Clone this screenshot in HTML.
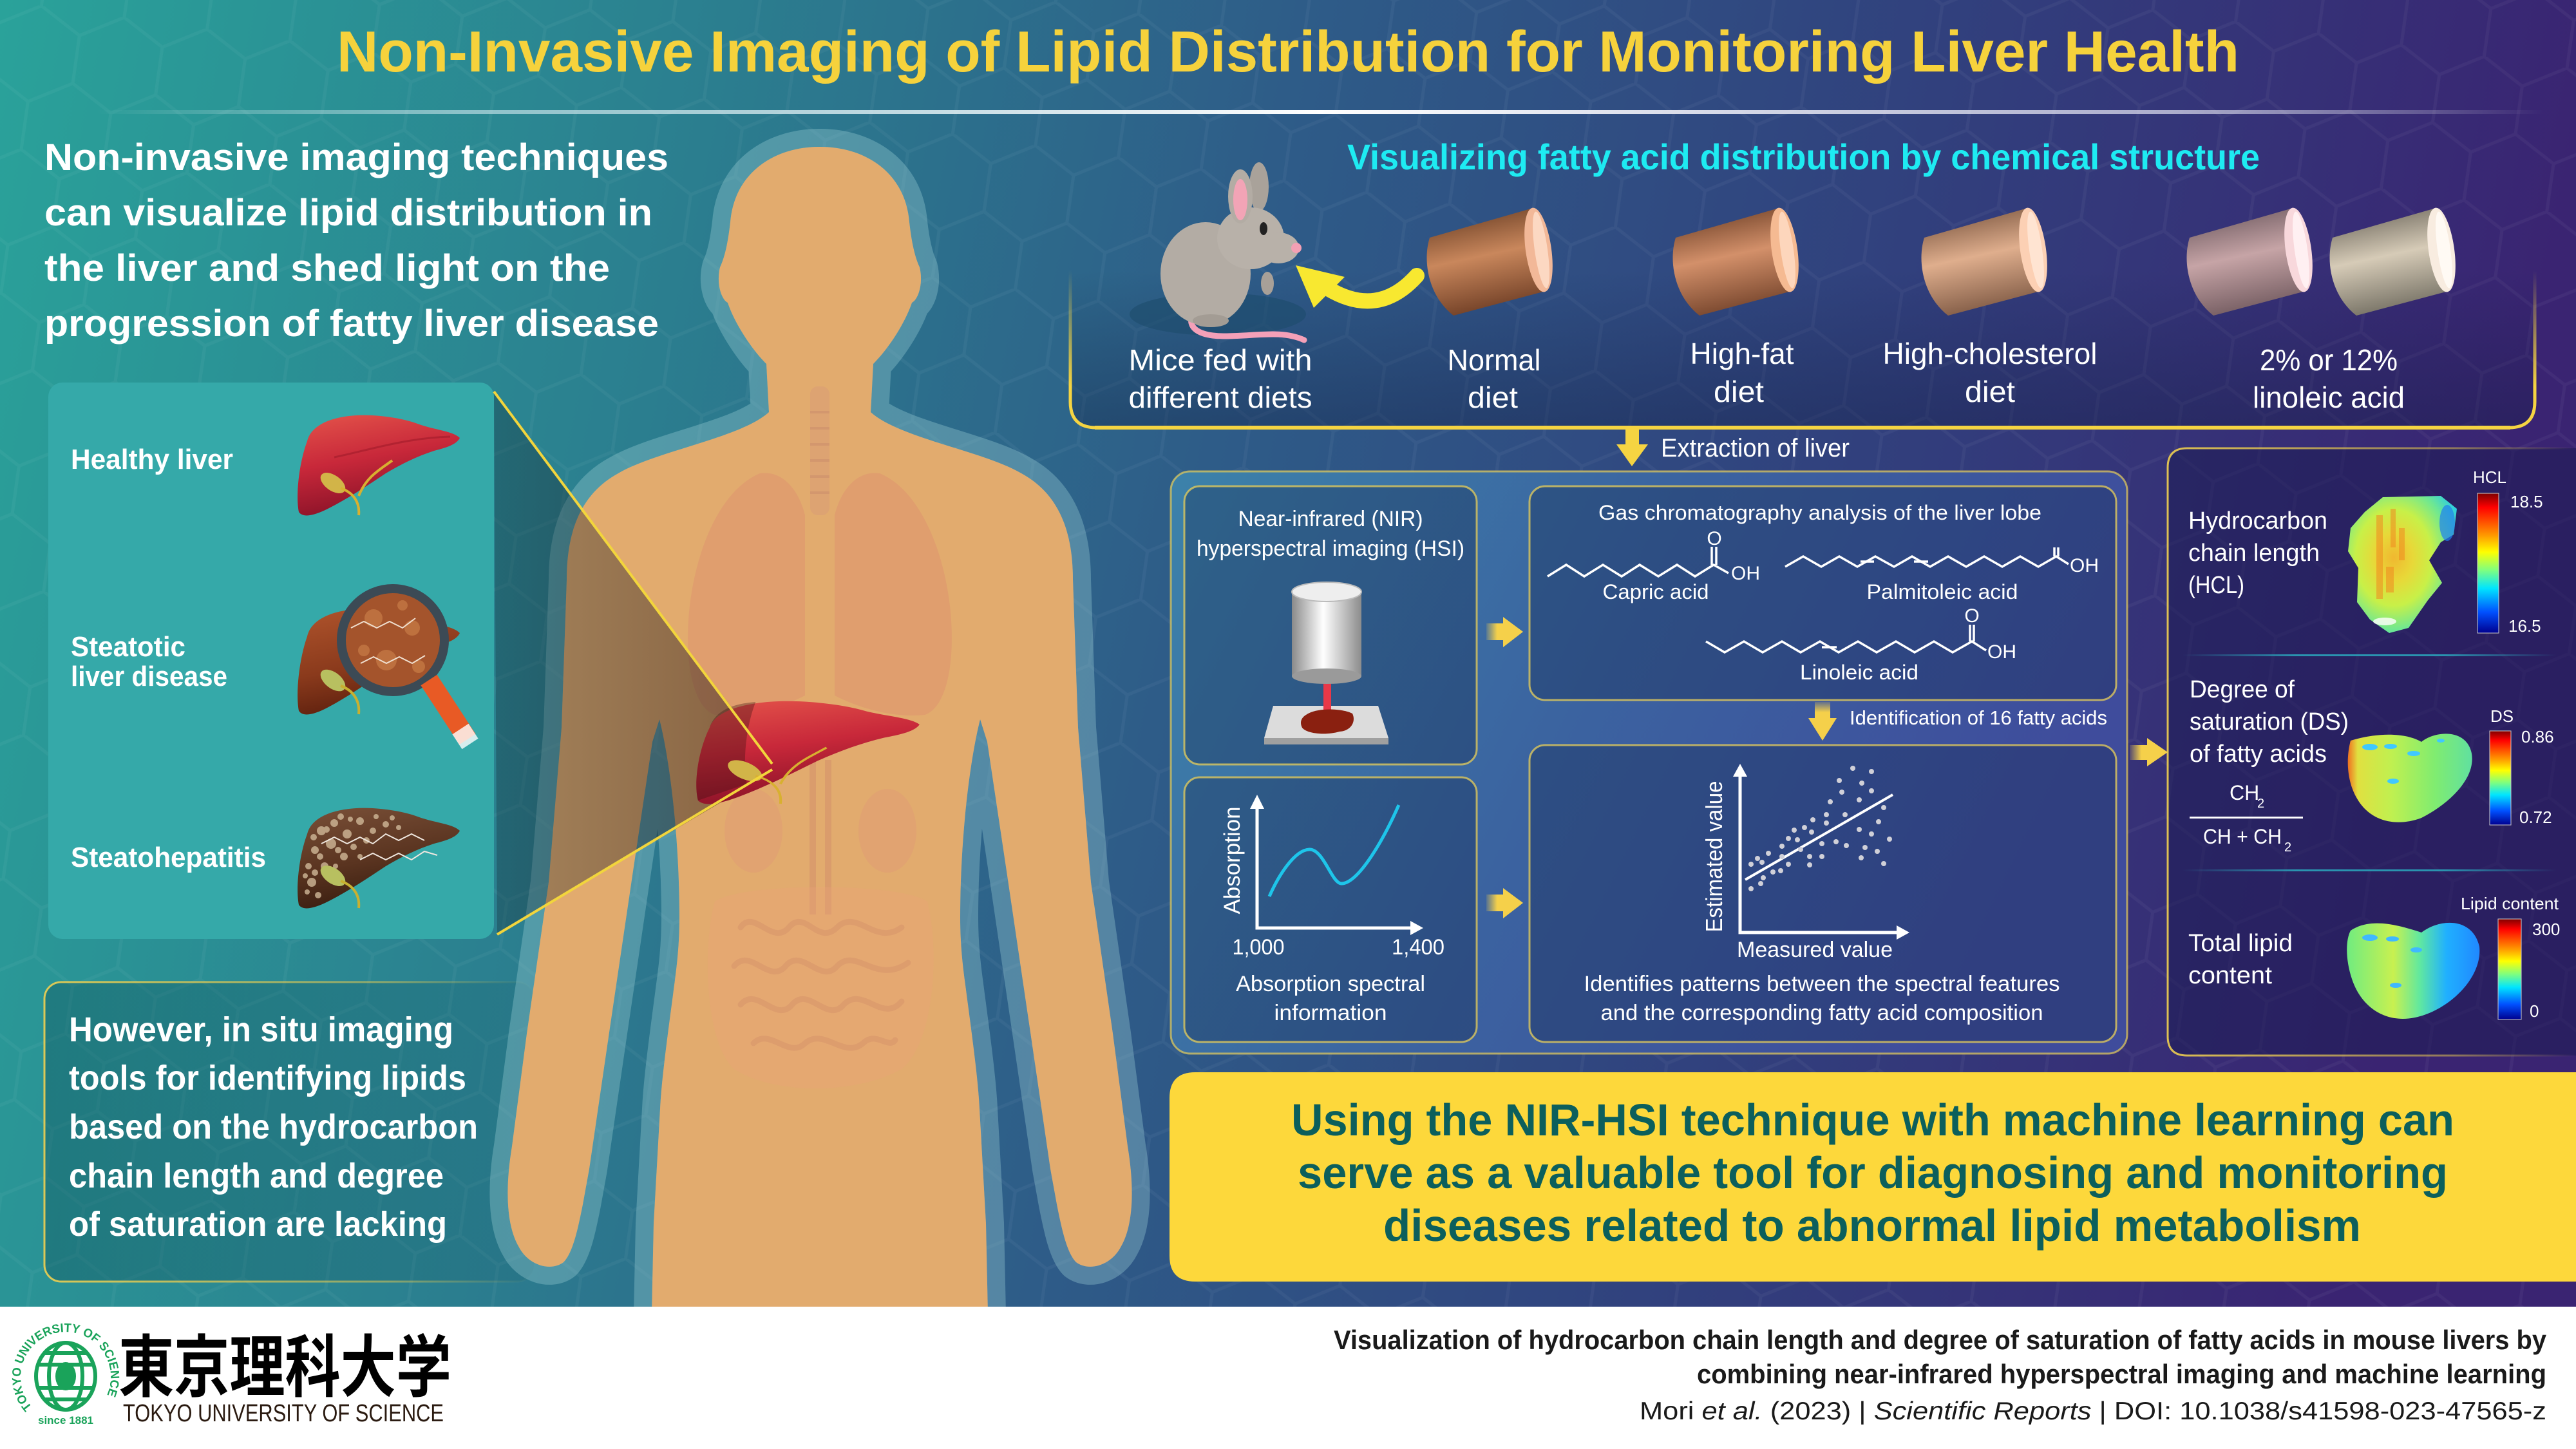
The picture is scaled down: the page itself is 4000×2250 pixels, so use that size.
<!DOCTYPE html>
<html><head><meta charset="utf-8">
<style>html,body{margin:0;padding:0;width:4000px;height:2250px;overflow:hidden;background:#fff}svg{display:block}</style>
</head><body>
<svg width="4000" height="2250" viewBox="0 0 4000 2250" xmlns="http://www.w3.org/2000/svg" xmlns:xlink="http://www.w3.org/1999/xlink" font-family="'Liberation Sans', Arial, sans-serif">
<defs>
  <linearGradient id="bg" x1="0" y1="0" x2="1" y2="0.12">
    <stop offset="0" stop-color="#2aa29a"/>
    <stop offset="0.28" stop-color="#2b7e8f"/>
    <stop offset="0.5" stop-color="#2e5c88"/>
    <stop offset="0.75" stop-color="#31407d"/>
    <stop offset="1" stop-color="#3a2472"/>
  </linearGradient>
  <pattern id="hex" width="129.9" height="225" patternUnits="userSpaceOnUse" patternTransform="rotate(8)">
    <path d="M64.95,0 L129.9,37.5 L129.9,112.5 L64.95,150 L0,112.5 L0,37.5 Z M64.95,150 L64.95,225" fill="none" stroke="#ffffff" stroke-opacity="0.04" stroke-width="5"/>
  </pattern>
  <linearGradient id="tline" x1="0" y1="0" x2="1" y2="0">
    <stop offset="0" stop-color="#fff" stop-opacity="0"/>
    <stop offset="0.15" stop-color="#cfe8ee" stop-opacity="0.6"/>
    <stop offset="0.5" stop-color="#ffffff" stop-opacity="1"/>
    <stop offset="0.85" stop-color="#e0e0f0" stop-opacity="0.7"/>
    <stop offset="1" stop-color="#fff" stop-opacity="0"/>
  </linearGradient>
  <linearGradient id="gLiver" x1="0" y1="0" x2="0.3" y2="1">
    <stop offset="0" stop-color="#e4544a"/>
    <stop offset="0.5" stop-color="#c8283a"/>
    <stop offset="1" stop-color="#8a1228"/>
  </linearGradient>
  <linearGradient id="gSteat" x1="0" y1="0" x2="0.3" y2="1">
    <stop offset="0" stop-color="#b0542c"/>
    <stop offset="0.6" stop-color="#8a3a1c"/>
    <stop offset="1" stop-color="#5e200e"/>
  </linearGradient>
  <linearGradient id="gHep" x1="0" y1="0" x2="0.3" y2="1">
    <stop offset="0" stop-color="#7a5038"/>
    <stop offset="0.6" stop-color="#5a3420"/>
    <stop offset="1" stop-color="#3a1e10"/>
  </linearGradient>
  <path id="liverP" d="M18,45 C25,15 70,2 120,5 C150,7 175,12 195,20 C220,28 245,30 255,40 C250,50 235,55 215,60 C190,68 165,80 140,95 C110,115 80,135 50,150 C30,160 12,165 5,155 C0,130 5,80 18,45 Z"/>
  <linearGradient id="bluePanel" x1="0" y1="0" x2="1" y2="0.3">
    <stop offset="0" stop-color="#3c82aa"/>
    <stop offset="0.5" stop-color="#3b63a0"/>
    <stop offset="1" stop-color="#3f4c9c"/>
  </linearGradient>
  <linearGradient id="yStrokeR" x1="0" y1="0" x2="1" y2="0">
    <stop offset="0" stop-color="#f0d050" stop-opacity="0.9"/>
    <stop offset="0.7" stop-color="#f0d050" stop-opacity="0.5"/>
    <stop offset="1" stop-color="#f0d050" stop-opacity="0"/>
  </linearGradient>
  <linearGradient id="bracketStroke" gradientUnits="userSpaceOnUse" x1="0" y1="420" x2="0" y2="600">
    <stop offset="0" stop-color="#f5d442" stop-opacity="0"/>
    <stop offset="1" stop-color="#f5d442" stop-opacity="1"/>
  </linearGradient>
  <linearGradient id="bracketFill" gradientUnits="userSpaceOnUse" x1="0" y1="420" x2="0" y2="664">
    <stop offset="0" stop-color="#101c40" stop-opacity="0"/>
    <stop offset="1" stop-color="#101c40" stop-opacity="0.35"/>
  </linearGradient>
  <linearGradient id="arrowR" x1="0" y1="0" x2="1" y2="0">
    <stop offset="0" stop-color="#f5d04a" stop-opacity="0.15"/>
    <stop offset="0.6" stop-color="#f5d04a" stop-opacity="1"/>
  </linearGradient>
  <linearGradient id="arrowD" x1="0" y1="0" x2="0" y2="1">
    <stop offset="0" stop-color="#f5d04a" stop-opacity="0.2"/>
    <stop offset="0.6" stop-color="#f5d04a" stop-opacity="1"/>
  </linearGradient>
  <linearGradient id="jet" x1="0" y1="0" x2="0" y2="1">
    <stop offset="0" stop-color="#7f0000"/>
    <stop offset="0.1" stop-color="#ff0000"/>
    <stop offset="0.3" stop-color="#ff9900"/>
    <stop offset="0.42" stop-color="#ffff00"/>
    <stop offset="0.55" stop-color="#7fff7f"/>
    <stop offset="0.68" stop-color="#00e5ff"/>
    <stop offset="0.85" stop-color="#0050ff"/>
    <stop offset="1" stop-color="#00008f"/>
  </linearGradient>
  <radialGradient id="hclFill" cx="0.42" cy="0.45" r="0.7">
    <stop offset="0" stop-color="#f0b830"/>
    <stop offset="0.25" stop-color="#e8d838"/>
    <stop offset="0.5" stop-color="#c8f048"/>
    <stop offset="0.75" stop-color="#70e890"/>
    <stop offset="1" stop-color="#20c8f0"/>
  </radialGradient>
  <linearGradient id="dsFill" x1="0" y1="0" x2="1" y2="0">
    <stop offset="0" stop-color="#f07020"/>
    <stop offset="0.08" stop-color="#e0e040"/>
    <stop offset="0.35" stop-color="#c0f050"/>
    <stop offset="0.7" stop-color="#80ec70"/>
    <stop offset="1" stop-color="#60e0a0"/>
  </linearGradient>
  <linearGradient id="lipFill" x1="0" y1="0" x2="1" y2="0">
    <stop offset="0" stop-color="#70ec80"/>
    <stop offset="0.35" stop-color="#c8f050"/>
    <stop offset="0.55" stop-color="#60e8a0"/>
    <stop offset="0.75" stop-color="#20b0ff"/>
    <stop offset="1" stop-color="#2088ff"/>
  </linearGradient>
  <linearGradient id="sepG" x1="0" y1="0" x2="1" y2="0">
    <stop offset="0" stop-color="#2aa0b8" stop-opacity="0"/>
    <stop offset="0.3" stop-color="#2aa0b8" stop-opacity="0.9"/>
    <stop offset="0.7" stop-color="#2aa0b8" stop-opacity="0.9"/>
    <stop offset="1" stop-color="#2aa0b8" stop-opacity="0"/>
  </linearGradient>
  <linearGradient id="cyl" x1="0" y1="0" x2="1" y2="0">
    <stop offset="0" stop-color="#8a8a8a"/>
    <stop offset="0.45" stop-color="#ffffff"/>
    <stop offset="1" stop-color="#8c8c8c"/>
  </linearGradient>
  <linearGradient id="wedge" x1="0" y1="0" x2="1" y2="0">
    <stop offset="0" stop-color="#10202a" stop-opacity="0.28"/>
    <stop offset="1" stop-color="#2a1510" stop-opacity="0.5"/>
  </linearGradient>
  <linearGradient id="blBox" x1="0" y1="0" x2="1" y2="0">
    <stop offset="0" stop-color="#0d4a55" stop-opacity="0.35"/>
    <stop offset="1" stop-color="#0d4a55" stop-opacity="0.1"/>
  </linearGradient>
  <linearGradient id="p1" x1="0.3" y1="0" x2="0.55" y2="1"><stop offset="0" stop-color="#6b3f25"/><stop offset="0.45" stop-color="#c9875c"/><stop offset="1" stop-color="#6a3a22"/></linearGradient>
  <linearGradient id="p2" x1="0.3" y1="0" x2="0.55" y2="1"><stop offset="0" stop-color="#6e4027"/><stop offset="0.45" stop-color="#d3906a"/><stop offset="1" stop-color="#704028"/></linearGradient>
  <linearGradient id="p3" x1="0.3" y1="0" x2="0.55" y2="1"><stop offset="0" stop-color="#7a553f"/><stop offset="0.45" stop-color="#dfae8d"/><stop offset="1" stop-color="#7a5540"/></linearGradient>
  <linearGradient id="p4" x1="0.3" y1="0" x2="0.55" y2="1"><stop offset="0" stop-color="#6e5a60"/><stop offset="0.45" stop-color="#c6a4a6"/><stop offset="1" stop-color="#6e575c"/></linearGradient>
  <linearGradient id="p5" x1="0.3" y1="0" x2="0.55" y2="1"><stop offset="0" stop-color="#6e685d"/><stop offset="0.45" stop-color="#d6cbb7"/><stop offset="1" stop-color="#6e6a5e"/></linearGradient>
  <path id="pelSide" d="M0,0 L-157,45 C-168,80 -160,135 -120,166 L23,128 C40,100 35,30 0,0 Z"/>
</defs>

<!-- Background -->
<rect x="0" y="0" width="4000" height="2250" fill="url(#bg)"/>
<rect x="0" y="0" width="4000" height="2030" fill="url(#hex)"/>

<!-- Title -->
<text x="523" y="111" font-size="90" font-weight="bold" fill="#f6d23c" textLength="2954" lengthAdjust="spacingAndGlyphs">Non-Invasive Imaging of Lipid Distribution for Monitoring Liver Health</text>
<rect x="150" y="171" width="3800" height="6" fill="url(#tline)"/>

<!-- Left intro text -->
<g font-size="58" font-weight="bold" fill="#ffffff">
  <text x="69" y="264" textLength="969" lengthAdjust="spacingAndGlyphs">Non-invasive imaging techniques</text>
  <text x="69" y="350" textLength="944" lengthAdjust="spacingAndGlyphs">can visualize lipid distribution in</text>
  <text x="69" y="436" textLength="878" lengthAdjust="spacingAndGlyphs">the liver and shed light on the</text>
  <text x="69" y="522" textLength="954" lengthAdjust="spacingAndGlyphs">progression of fatty liver disease</text>
</g>

<!-- Liver panel -->
<rect x="75" y="594" width="692" height="864" rx="22" fill="#35a9a9"/>
<g font-size="44" font-weight="bold" fill="#ffffff">
  <text x="110" y="728" textLength="252" lengthAdjust="spacingAndGlyphs">Healthy liver</text>
  <text x="110" y="1019" textLength="178" lengthAdjust="spacingAndGlyphs">Steatotic</text>
  <text x="110" y="1065" textLength="243" lengthAdjust="spacingAndGlyphs">liver disease</text>
  <text x="110" y="1346" textLength="303" lengthAdjust="spacingAndGlyphs">Steatohepatitis</text>
</g>
<!-- healthy liver -->
<g transform="translate(459,640)">
  <use xlink:href="#liverP" fill="url(#gLiver)"/>
  <path d="M60,70 C110,60 170,40 240,38" stroke="#a01a2a" stroke-width="3" fill="none" opacity="0.6"/>
  <ellipse cx="58" cy="110" rx="22" ry="12" transform="rotate(35 58 110)" fill="#d2b448"/>
  <path d="M70,118 C90,125 100,140 98,160 M98,130 C110,100 130,90 150,75" stroke="#d8b030" stroke-width="4" fill="none"/>
</g>
<!-- steatotic liver -->
<g transform="translate(459,941) scale(1,1.05)">
  <use xlink:href="#liverP" fill="url(#gSteat)"/>
  <ellipse cx="58" cy="110" rx="22" ry="12" transform="rotate(35 58 110)" fill="#b8c060"/>
  <path d="M70,118 C90,125 100,140 98,160" stroke="#c8b030" stroke-width="4" fill="none"/>
</g>
<circle cx="610" cy="994" r="80" fill="#a4542c" stroke="#3c4a55" stroke-width="14"/>
<g fill="#c47844" opacity="0.8">
  <circle cx="580" cy="960" r="14"/><circle cx="640" cy="975" r="12"/><circle cx="600" cy="1025" r="16"/><circle cx="650" cy="1035" r="10"/><circle cx="565" cy="1010" r="9"/><circle cx="625" cy="940" r="8"/>
</g>
<path d="M545,975 L565,965 L585,975 L605,965 L625,975 L645,960 M560,1030 L580,1020 L600,1030 L620,1020 L640,1030 L660,1018" stroke="#f0e0d0" stroke-width="2" fill="none"/>
<line x1="666" y1="1056" x2="726" y2="1148" stroke="#e85a25" stroke-width="30" stroke-linecap="butt"/>
<line x1="715" y1="1132" x2="730" y2="1155" stroke="#ffffff" stroke-width="30" opacity="0.8"/>
<!-- steatohepatitis -->
<g transform="translate(459,1250)">
  <use xlink:href="#liverP" fill="url(#gHep)"/>
  <g fill="#d0b898" opacity="0.8">
    <circle cx="40" cy="40" r="7"/><circle cx="60" cy="28" r="6"/><circle cx="80" cy="45" r="7"/><circle cx="30" cy="70" r="6"/><circle cx="55" cy="60" r="8"/><circle cx="100" cy="25" r="6"/><circle cx="45" cy="95" r="6"/><circle cx="25" cy="120" r="7"/><circle cx="75" cy="80" r="6"/><circle cx="120" cy="40" r="5"/><circle cx="20" cy="95" r="5"/><circle cx="90" cy="65" r="5"/><circle cx="140" cy="30" r="5"/><circle cx="35" cy="140" r="5"/>
    <circle cx="28" cy="50" r="5"/><circle cx="70" cy="18" r="5"/><circle cx="85" cy="22" r="4"/><circle cx="48" cy="38" r="5"/><circle cx="66" cy="70" r="5"/><circle cx="38" cy="80" r="5"/><circle cx="15" cy="110" r="4"/><circle cx="30" cy="105" r="5"/><circle cx="110" cy="55" r="5"/><circle cx="125" cy="18" r="4"/><circle cx="62" cy="95" r="4"/><circle cx="18" cy="135" r="4"/><circle cx="160" cy="35" r="4"/><circle cx="100" cy="80" r="4"/><circle cx="150" cy="20" r="4"/>
  </g>
  <path d="M40,60 L60,50 L80,60 L100,50 L120,60 L140,45 L160,55 L180,45 L200,55 M100,85 L120,75 L140,85 L160,75 L180,85 L200,72 L220,78" stroke="#f0e8e0" stroke-width="2" fill="none"/>
  <ellipse cx="58" cy="110" rx="22" ry="12" transform="rotate(35 58 110)" fill="#b8c060"/>
  <path d="M70,118 C90,125 100,140 98,160" stroke="#c8b030" stroke-width="4" fill="none"/>
</g>

<!-- Bottom left box -->
<rect x="69" y="1525" width="760" height="465" rx="26" fill="url(#blBox)" stroke="url(#yStrokeR)" stroke-width="3"/>
<g font-size="54" font-weight="bold" fill="#ffffff">
  <text x="107" y="1617" textLength="597" lengthAdjust="spacingAndGlyphs">However, in situ imaging</text>
  <text x="107" y="1692" textLength="617" lengthAdjust="spacingAndGlyphs">tools for identifying lipids</text>
  <text x="107" y="1768" textLength="635" lengthAdjust="spacingAndGlyphs">based on the hydrocarbon</text>
  <text x="107" y="1844" textLength="582" lengthAdjust="spacingAndGlyphs">chain length and degree</text>
  <text x="107" y="1919" textLength="587" lengthAdjust="spacingAndGlyphs">of saturation are lacking</text>
</g>

<!-- Human body -->
<path d="M1273,228 C1200,228 1140,270 1134,345 C1130,380 1125,400 1118,415 C1112,440 1120,465 1130,470 C1140,500 1165,540 1190,565 L1194,640 C1150,680 1020,700 960,735 C905,765 880,820 880,900 L872,1130 L852,1370 L818,1605 L795,1780 C785,1840 785,1900 805,1935 C820,1965 855,1975 875,1960 C890,1945 898,1905 905,1870 L915,1815 L946,1603 L981,1366 L1013,1152 L1024,1117 C1040,1180 1055,1300 1055,1425 C1055,1480 1048,1520 1045,1545 C1035,1620 1027,1680 1025,1722 L1015,1900 L1012,2040 L1534,2040 L1531,1900 L1521,1722 C1519,1680 1511,1620 1501,1545 C1498,1520 1491,1480 1491,1425 C1491,1300 1506,1180 1522,1117 L1533,1152 L1565,1366 L1600,1603 L1631,1815 L1641,1870 C1648,1905 1656,1945 1671,1960 C1691,1975 1726,1965 1741,1935 C1761,1900 1761,1840 1751,1780 L1728,1605 L1694,1370 L1674,1130 L1666,900 C1666,820 1641,765 1586,735 C1526,700 1396,680 1352,640 L1356,565 C1381,540 1406,500 1416,470 C1426,465 1434,440 1428,415 C1421,400 1416,380 1412,345 C1406,270 1346,228 1273,228 Z" fill="#9fd0d6" fill-opacity="0.35" stroke="#9fd0d6" stroke-opacity="0.35" stroke-width="56" stroke-linejoin="round"/>
<path d="M1273,228 C1200,228 1140,270 1134,345 C1130,380 1125,400 1118,415 C1112,440 1120,465 1130,470 C1140,500 1165,540 1190,565 L1194,640 C1150,680 1020,700 960,735 C905,765 880,820 880,900 L872,1130 L852,1370 L818,1605 L795,1780 C785,1840 785,1900 805,1935 C820,1965 855,1975 875,1960 C890,1945 898,1905 905,1870 L915,1815 L946,1603 L981,1366 L1013,1152 L1024,1117 C1040,1180 1055,1300 1055,1425 C1055,1480 1048,1520 1045,1545 C1035,1620 1027,1680 1025,1722 L1015,1900 L1012,2040 L1534,2040 L1531,1900 L1521,1722 C1519,1680 1511,1620 1501,1545 C1498,1520 1491,1480 1491,1425 C1491,1300 1506,1180 1522,1117 L1533,1152 L1565,1366 L1600,1603 L1631,1815 L1641,1870 C1648,1905 1656,1945 1671,1960 C1691,1975 1726,1965 1741,1935 C1761,1900 1761,1840 1751,1780 L1728,1605 L1694,1370 L1674,1130 L1666,900 C1666,820 1641,765 1586,735 C1526,700 1396,680 1352,640 L1356,565 C1381,540 1406,500 1416,470 C1426,465 1434,440 1428,415 C1421,400 1416,380 1412,345 C1406,270 1346,228 1273,228 Z" fill="#e2ab6e"/>
<!-- organs -->
<rect x="1258" y="600" width="30" height="200" rx="12" fill="#d89a78" opacity="0.45"/>
<g stroke="#c88a6a" stroke-width="4" opacity="0.45">
  <line x1="1258" y1="640" x2="1288" y2="640"/><line x1="1258" y1="665" x2="1288" y2="665"/><line x1="1258" y1="690" x2="1288" y2="690"/><line x1="1258" y1="715" x2="1288" y2="715"/><line x1="1258" y1="740" x2="1288" y2="740"/><line x1="1258" y1="765" x2="1288" y2="765"/>
</g>
<path d="M1180,735 C1120,760 1080,850 1070,950 C1062,1040 1080,1100 1110,1110 C1160,1115 1210,1100 1250,1080 L1250,800 C1240,760 1215,730 1180,735 Z" fill="#de8270" opacity="0.32"/>
<path d="M1366,735 C1426,760 1466,850 1476,950 C1484,1040 1466,1100 1436,1110 C1386,1115 1336,1100 1296,1080 L1296,800 C1306,760 1331,730 1366,735 Z" fill="#de8270" opacity="0.32"/>
<ellipse cx="1170" cy="1290" rx="45" ry="65" fill="#e0907a" opacity="0.28"/>
<ellipse cx="1378" cy="1290" rx="45" ry="65" fill="#e0907a" opacity="0.28"/>
<line x1="1262" y1="1180" x2="1262" y2="1420" stroke="#c87a68" stroke-width="10" opacity="0.3"/>
<line x1="1286" y1="1180" x2="1286" y2="1420" stroke="#c87a68" stroke-width="10" opacity="0.3"/>
<path d="M1110,1400 C1150,1370 1400,1370 1440,1400 C1460,1480 1450,1620 1400,1660 C1330,1700 1200,1700 1140,1660 C1095,1620 1090,1470 1110,1400 Z" fill="#eca27a" opacity="0.3"/>
<g stroke="#cf8a68" stroke-width="9" fill="none" opacity="0.35" stroke-linecap="round">
  <path d="M1150,1440 C1170,1410 1200,1470 1225,1440 C1250,1410 1270,1470 1300,1440 C1330,1410 1360,1470 1400,1440"/>
  <path d="M1140,1500 C1165,1470 1195,1530 1220,1500 C1245,1470 1275,1530 1300,1500 C1330,1470 1360,1530 1410,1495"/>
  <path d="M1150,1560 C1175,1530 1205,1590 1230,1560 C1255,1530 1285,1590 1310,1560 C1340,1530 1370,1590 1400,1555"/>
  <path d="M1170,1620 C1195,1595 1225,1645 1250,1620 C1280,1595 1310,1645 1340,1620 C1360,1600 1380,1630 1390,1615"/>
</g>

<!-- projection wedge -->
<polygon points="767,608 1199,1182 1199,1199 772,1451" fill="url(#wedge)"/>
<!-- body liver -->
<g transform="translate(1077,1084) scale(1.376,1.025)">
  <use xlink:href="#liverP" fill="url(#gLiver)"/>
  <path d="M5,155 C0,130 5,80 18,45 C25,15 50,8 70,6 C60,40 55,90 60,130 Z" fill="#3a1010" opacity="0.35"/>
  <ellipse cx="58" cy="110" rx="22" ry="12" transform="rotate(35 58 110)" fill="#d2b448"/>
  <path d="M70,118 C90,125 100,140 98,160 M98,130 C110,100 130,90 150,75" stroke="#d8b030" stroke-width="3" fill="none"/>
</g>
<line x1="767" y1="608" x2="1199" y2="1186" stroke="#f2d53c" stroke-width="4"/>
<line x1="772" y1="1451" x2="1199" y2="1195" stroke="#f2d53c" stroke-width="4"/>

<!-- Subtitle -->
<text x="2092" y="263" font-size="56" font-weight="bold" fill="#1eebf2" textLength="1417" lengthAdjust="spacingAndGlyphs">Visualizing fatty acid distribution by chemical structure</text>

<!-- Diet bracket -->
<path d="M1662,420 L1662,624 Q1662,664 1702,664 L3896,664 Q3936,664 3936,624 L3936,420 Z" fill="url(#bracketFill)"/>
<path d="M1662,420 L1662,624 Q1662,664 1702,664 L3896,664 Q3936,664 3936,624 L3936,420" fill="none" stroke="url(#bracketStroke)" stroke-width="5"/>
<rect x="1700" y="661" width="2198" height="6" fill="#f5d442"/>

<!-- Mouse -->
<ellipse cx="1891" cy="488" rx="137" ry="33" fill="#1c4a6a" opacity="0.55"/>
<path d="M1865,470 C1835,500 1850,522 1900,522 C1950,522 1990,512 2025,528" stroke="#f4a0b8" stroke-width="9" fill="none" stroke-linecap="round"/>
<ellipse cx="1872" cy="425" rx="70" ry="80" fill="#b3aca4"/>
<ellipse cx="1880" cy="498" rx="28" ry="10" fill="#a39c94"/>
<ellipse cx="1955" cy="290" rx="15" ry="38" fill="#a9a29a"/>
<ellipse cx="1942" cy="370" rx="52" ry="48" fill="#b8b1a9"/>
<ellipse cx="1985" cy="385" rx="32" ry="24" fill="#b8b1a9"/>
<ellipse cx="1926" cy="305" rx="19" ry="42" fill="#b3aca4"/>
<ellipse cx="1926" cy="310" rx="11" ry="32" fill="#f2a4b6"/>
<ellipse cx="1962" cy="355" rx="6" ry="10" fill="#222"/>
<circle cx="2013" cy="385" r="8" fill="#f3a0b4"/>
<ellipse cx="1968" cy="440" rx="10" ry="18" fill="#a8a098"/>
<!-- yellow curved arrow -->
<path d="M2200,428 Q2140,495 2062,448" stroke="#f8e830" stroke-width="24" fill="none" stroke-linecap="round"/>
<polygon points="2012,412 2088,430 2040,478" fill="#f8e830"/>

<!-- Pellets -->
<g transform="translate(2377,324)"><use xlink:href="#pelSide" fill="url(#p1)"/><ellipse cx="12" cy="64" rx="20" ry="66" transform="rotate(-8 12 64)" fill="#f2b898"/><ellipse cx="16" cy="64" rx="10" ry="60" transform="rotate(-8 16 64)" fill="#fcd8c2"/></g>
<g transform="translate(2759,324)"><use xlink:href="#pelSide" fill="url(#p2)"/><ellipse cx="12" cy="64" rx="20" ry="66" transform="rotate(-8 12 64)" fill="#f5ba92"/><ellipse cx="16" cy="64" rx="10" ry="60" transform="rotate(-8 16 64)" fill="#fdd6bc"/></g>
<g transform="translate(3145,324)"><use xlink:href="#pelSide" fill="url(#p3)"/><ellipse cx="12" cy="64" rx="20" ry="66" transform="rotate(-8 12 64)" fill="#fcd0b4"/><ellipse cx="16" cy="64" rx="10" ry="60" transform="rotate(-8 16 64)" fill="#ffe4d2"/></g>
<g transform="translate(3557,324)"><use xlink:href="#pelSide" fill="url(#p4)"/><ellipse cx="12" cy="64" rx="20" ry="66" transform="rotate(-8 12 64)" fill="#f8d8dc"/><ellipse cx="16" cy="64" rx="10" ry="60" transform="rotate(-8 16 64)" fill="#fff0f2"/></g>
<g transform="translate(3779,324)"><use xlink:href="#pelSide" fill="url(#p5)"/><ellipse cx="12" cy="64" rx="20" ry="66" transform="rotate(-8 12 64)" fill="#f8ece0"/><ellipse cx="16" cy="64" rx="10" ry="60" transform="rotate(-8 16 64)" fill="#fffaf4"/></g>

<!-- Diet labels -->
<g font-size="46" fill="#ffffff" text-anchor="middle">
  <text x="1895" y="575" textLength="285" lengthAdjust="spacingAndGlyphs">Mice fed with</text>
  <text x="1895" y="633" textLength="285" lengthAdjust="spacingAndGlyphs">different diets</text>
  <text x="2320" y="575" textLength="145" lengthAdjust="spacingAndGlyphs">Normal</text>
  <text x="2318" y="633" textLength="78" lengthAdjust="spacingAndGlyphs">diet</text>
  <text x="2705" y="565" textLength="161" lengthAdjust="spacingAndGlyphs">High-fat</text>
  <text x="2700" y="624" textLength="78" lengthAdjust="spacingAndGlyphs">diet</text>
  <text x="3090" y="565" textLength="333" lengthAdjust="spacingAndGlyphs">High-cholesterol</text>
  <text x="3090" y="624" textLength="78" lengthAdjust="spacingAndGlyphs">diet</text>
  <text x="3616" y="575" textLength="214" lengthAdjust="spacingAndGlyphs">2% or 12%</text>
  <text x="3616" y="633" textLength="236" lengthAdjust="spacingAndGlyphs">linoleic acid</text>
</g>

<!-- Down arrow: extraction -->
<rect x="2524" y="664" width="21" height="28" fill="#f5d442"/>
<polygon points="2510,690 2559,690 2534,724" fill="#f5d442"/>
<text x="2579" y="709" font-size="40" fill="#ffffff" textLength="293" lengthAdjust="spacingAndGlyphs">Extraction of liver</text>

<!-- Middle big panel -->
<rect x="1818" y="732" width="1485" height="904" rx="30" fill="url(#bluePanel)" stroke="#e8cf5a" stroke-opacity="0.7" stroke-width="3"/>
<g fill="#14284e" fill-opacity="0.35" stroke="#e8cf5a" stroke-opacity="0.75" stroke-width="3">
  <rect x="1839" y="755" width="454" height="432" rx="24"/>
  <rect x="1839" y="1207" width="454" height="411" rx="24"/>
  <rect x="2375" y="755" width="911" height="332" rx="24"/>
  <rect x="2375" y="1157" width="911" height="461" rx="24"/>
</g>

<!-- NIR box -->
<g font-size="34" fill="#ffffff" text-anchor="middle">
  <text x="2066" y="817" textLength="287" lengthAdjust="spacingAndGlyphs">Near-infrared (NIR)</text>
  <text x="2066" y="863" textLength="416" lengthAdjust="spacingAndGlyphs">hyperspectral imaging (HSI)</text>
</g>
<polygon points="1977,1096 2140,1096 2156,1146 1963,1146" fill="#dcdcdc"/>
<rect x="1963" y="1146" width="193" height="10" fill="#a0a0a0"/>
<rect x="2055" y="1055" width="12" height="60" fill="#e83848"/>
<path d="M2028,1110 C2045,1098 2085,1100 2100,1108 C2106,1120 2098,1135 2080,1136 C2060,1142 2030,1140 2022,1130 C2018,1122 2020,1115 2028,1110 Z" fill="#8a2010"/>
<rect x="2006" y="919" width="108" height="131" fill="url(#cyl)"/>
<ellipse cx="2060" cy="1050" rx="54" ry="12" fill="#9a9a9a"/>
<ellipse cx="2060" cy="919" rx="54" ry="15" fill="#eeeeee" stroke="#bbbbbb" stroke-width="2"/>

<!-- arrows between boxes -->
<rect x="2308" y="968" width="28" height="26" fill="url(#arrowR)"/>
<polygon points="2334,958 2365,981 2334,1005" fill="#f5d04a"/>
<rect x="2308" y="1389" width="28" height="26" fill="url(#arrowR)"/>
<polygon points="2334,1379 2365,1402 2334,1426" fill="#f5d04a"/>
<rect x="2818" y="1090" width="24" height="27" fill="url(#arrowD)"/>
<polygon points="2808,1115 2852,1115 2830,1150" fill="#f5d04a"/>
<text x="2872" y="1125" font-size="31" fill="#ffffff" textLength="400" lengthAdjust="spacingAndGlyphs">Identification of 16 fatty acids</text>

<!-- Absorption box -->
<polyline points="1952,1250 1952,1441 2195,1441" stroke="#ffffff" stroke-width="5" fill="none"/>
<polygon points="1941,1256 1963,1256 1952,1234" fill="#fff"/>
<polygon points="2190,1430 2190,1452 2210,1441" fill="#fff"/>
<path d="M1971,1392 C1985,1360 2010,1320 2033,1319 C2055,1318 2068,1372 2083,1372 C2110,1372 2150,1300 2172,1250" stroke="#1ec5ea" stroke-width="5" fill="none"/>
<text transform="translate(1925,1336) rotate(-90)" text-anchor="middle" font-size="35" fill="#ffffff" textLength="167" lengthAdjust="spacingAndGlyphs">Absorption</text>
<g font-size="34" fill="#ffffff" text-anchor="middle">
  <text x="1954" y="1482" textLength="81" lengthAdjust="spacingAndGlyphs">1,000</text>
  <text x="2202" y="1482" textLength="82" lengthAdjust="spacingAndGlyphs">1,400</text>
  <text x="2066" y="1539" textLength="294" lengthAdjust="spacingAndGlyphs">Absorption spectral</text>
  <text x="2066" y="1584" textLength="175" lengthAdjust="spacingAndGlyphs">information</text>
</g>

<!-- GC box -->
<text x="2826" y="807" font-size="32" fill="#ffffff" text-anchor="middle" textLength="688" lengthAdjust="spacingAndGlyphs">Gas chromatography analysis of the liver lobe</text>
<g stroke="#ffffff" stroke-width="3.5" fill="none" stroke-linejoin="miter">
  <polyline points="2403,895 2432,877 2460,895 2489,877 2518,895 2546,877 2575,895 2604,877 2632,895 2661,877 2684,890"/>
  <line x1="2658" y1="877" x2="2658" y2="849"/><line x1="2665" y1="877" x2="2665" y2="849"/>
  <polyline points="2772,880 2800,864 2828,880 2856,864 2884,880 2912,864 2941,880 2969,864 2997,880 3025,864 3053,880 3081,864 3109,880 3137,864 3165,880 3193,864 3212,876"/>
  <line x1="2889" y1="872" x2="2910" y2="872"/><line x1="2972" y1="872" x2="2994" y2="872"/>
  <line x1="3190" y1="864" x2="3190" y2="850"/><line x1="3196" y1="864" x2="3196" y2="850"/>
  <polyline points="2649,996 2678,1013 2708,996 2737,1013 2767,996 2796,1013 2826,996 2855,1013 2885,996 2914,1013 2944,996 2973,1013 3003,996 3032,1013 3062,996 3084,1010"/>
  <line x1="2829" y1="1005" x2="2852" y2="1005"/>
  <line x1="3059" y1="996" x2="3059" y2="970"/><line x1="3065" y1="996" x2="3065" y2="970"/>
</g>
<g font-size="30" fill="#ffffff">
  <text x="2662" y="846" text-anchor="middle">O</text>
  <text x="2688" y="900">OH</text>
  <text x="3214" y="888">OH</text>
  <text x="3062" y="966" text-anchor="middle">O</text>
  <text x="3086" y="1022">OH</text>
</g>
<g font-size="32" fill="#ffffff" text-anchor="middle">
  <text x="2571" y="930" textLength="165" lengthAdjust="spacingAndGlyphs">Capric acid</text>
  <text x="3016" y="930" textLength="235" lengthAdjust="spacingAndGlyphs">Palmitoleic acid</text>
  <text x="2887" y="1055" textLength="184" lengthAdjust="spacingAndGlyphs">Linoleic acid</text>
</g>

<!-- Regression box -->
<polyline points="2702,1200 2702,1448 2950,1448" stroke="#fff" stroke-width="5" fill="none"/>
<polygon points="2691,1206 2713,1206 2702,1186" fill="#fff"/>
<polygon points="2945,1437 2945,1459 2965,1448" fill="#fff"/>
<line x1="2710" y1="1366" x2="2939" y2="1234" stroke="#fff" stroke-width="4"/>
<g fill="#d0d0d8">
  <circle cx="2877" cy="1193" r="4"/><circle cx="2906" cy="1198" r="4"/><circle cx="2856" cy="1212" r="4"/><circle cx="2891" cy="1216" r="4"/><circle cx="2860" cy="1230" r="4"/><circle cx="2906" cy="1228" r="4"/><circle cx="2842" cy="1245" r="4"/><circle cx="2887" cy="1242" r="4"/><circle cx="2925" cy="1254" r="4"/><circle cx="2836" cy="1265" r="4"/><circle cx="2815" cy="1273" r="4"/><circle cx="2865" cy="1265" r="4"/><circle cx="2836" cy="1278" r="4"/><circle cx="2917" cy="1276" r="4"/><circle cx="2802" cy="1285" r="4"/><circle cx="2786" cy="1289" r="4"/><circle cx="2813" cy="1292" r="4"/><circle cx="2887" cy="1288" r="4"/><circle cx="2906" cy="1295" r="4"/><circle cx="2777" cy="1302" r="4"/><circle cx="2791" cy="1304" r="4"/><circle cx="2851" cy="1307" r="4"/><circle cx="2934" cy="1303" r="4"/><circle cx="2767" cy="1314" r="4"/><circle cx="2829" cy="1310" r="4"/><circle cx="2867" cy="1313" r="4"/><circle cx="2746" cy="1325" r="4"/><circle cx="2796" cy="1319" r="4"/><circle cx="2896" cy="1316" r="4"/><circle cx="2915" cy="1322" r="4"/><circle cx="2729" cy="1333" r="4"/><circle cx="2767" cy="1330" r="4"/><circle cx="2810" cy="1330" r="4"/><circle cx="2829" cy="1330" r="4"/><circle cx="2719" cy="1342" r="4"/><circle cx="2736" cy="1339" r="4"/><circle cx="2777" cy="1342" r="4"/><circle cx="2810" cy="1343" r="4"/><circle cx="2890" cy="1332" r="4"/><circle cx="2925" cy="1341" r="4"/><circle cx="2753" cy="1354" r="4"/><circle cx="2765" cy="1352" r="4"/><circle cx="2738" cy="1363" r="4"/><circle cx="2734" cy="1372" r="4"/><circle cx="2719" cy="1380" r="4"/>
</g>
<text transform="translate(2674,1330) rotate(-90)" text-anchor="middle" font-size="36" fill="#ffffff" textLength="235" lengthAdjust="spacingAndGlyphs">Estimated value</text>
<g font-size="34" fill="#ffffff" text-anchor="middle">
  <text x="2818" y="1486" textLength="242" lengthAdjust="spacingAndGlyphs">Measured value</text>
  <text x="2829" y="1539" textLength="739" lengthAdjust="spacingAndGlyphs">Identifies patterns between the spectral features</text>
  <text x="2829" y="1584" textLength="687" lengthAdjust="spacingAndGlyphs">and the corresponding fatty acid composition</text>
</g>

<!-- arrow to right panel -->
<rect x="3307" y="1157" width="30" height="23" fill="url(#arrowR)"/>
<polygon points="3334,1146 3366,1168 3334,1190" fill="#f5d04a"/>

<!-- Right panel -->
<path d="M3396,696 L4000,696 L4000,1639 L3396,1639 Q3366,1639 3366,1609 L3366,726 Q3366,696 3396,696 Z" fill="#1a1a50" fill-opacity="0.5" stroke="url(#yStrokeR)" stroke-width="3"/>
<rect x="3389" y="1016" width="581" height="3" fill="url(#sepG)"/>
<rect x="3389" y="1350" width="581" height="3" fill="url(#sepG)"/>
<g font-size="38" fill="#ffffff">
  <text x="3398" y="821" textLength="216" lengthAdjust="spacingAndGlyphs">Hydrocarbon</text>
  <text x="3398" y="871" textLength="204" lengthAdjust="spacingAndGlyphs">chain length</text>
  <text x="3398" y="921" textLength="87" lengthAdjust="spacingAndGlyphs">(HCL)</text>
  <text x="3400" y="1083" textLength="163" lengthAdjust="spacingAndGlyphs">Degree of</text>
  <text x="3400" y="1133" textLength="247" lengthAdjust="spacingAndGlyphs">saturation (DS)</text>
  <text x="3400" y="1183" textLength="213" lengthAdjust="spacingAndGlyphs">of fatty acids</text>
  <text x="3398" y="1477" textLength="162" lengthAdjust="spacingAndGlyphs">Total lipid</text>
  <text x="3398" y="1527" textLength="130" lengthAdjust="spacingAndGlyphs">content</text>
</g>
<g fill="#ffffff">
  <text x="3462" y="1242" font-size="32">CH</text>
  <text x="3505" y="1254" font-size="20">2</text>
  <rect x="3400" y="1268" width="176" height="3"/>
  <text x="3421" y="1310" font-size="32" textLength="122" lengthAdjust="spacingAndGlyphs">CH + CH</text>
  <text x="3547" y="1322" font-size="20">2</text>
</g>
<!-- heatmaps -->
<path d="M3700,772 L3790,770 L3815,790 L3810,830 L3790,842 L3772,870 L3792,905 L3770,932 L3740,975 L3710,983 L3680,962 L3660,935 L3662,882 L3646,856 L3650,820 L3672,795 Z" fill="url(#hclFill)"/>
<g fill="#f08a20" opacity="0.55">
  <rect x="3690" y="800" width="10" height="130"/><rect x="3712" y="790" width="8" height="60"/><rect x="3725" y="820" width="9" height="50"/><rect x="3705" y="880" width="12" height="40"/>
</g>
<ellipse cx="3800" cy="812" rx="12" ry="28" fill="#2080f0" opacity="0.7"/>
<ellipse cx="3703" cy="965" rx="18" ry="6" fill="#ffffff" opacity="0.8"/>
<path d="M3650,1150 C3700,1135 3740,1140 3760,1152 C3780,1135 3830,1130 3838,1170 C3845,1210 3800,1250 3760,1270 C3720,1285 3680,1275 3660,1240 C3645,1215 3642,1180 3650,1150 Z" fill="url(#dsFill)"/>
<g fill="#40c8ff"><ellipse cx="3680" cy="1160" rx="12" ry="5"/><ellipse cx="3712" cy="1159" rx="10" ry="4"/><ellipse cx="3748" cy="1170" rx="10" ry="4"/><ellipse cx="3790" cy="1150" rx="6" ry="3"/><ellipse cx="3716" cy="1213" rx="9" ry="4"/></g>
<path d="M3650,1445 C3680,1425 3720,1435 3760,1448 C3790,1425 3840,1425 3850,1470 C3855,1520 3800,1570 3750,1580 C3700,1590 3665,1560 3652,1520 C3642,1490 3642,1460 3650,1445 Z" fill="url(#lipFill)"/>
<g fill="#40b8ff"><ellipse cx="3680" cy="1456" rx="12" ry="5"/><ellipse cx="3715" cy="1458" rx="10" ry="4"/><ellipse cx="3752" cy="1475" rx="9" ry="4"/><ellipse cx="3720" cy="1530" rx="9" ry="4"/></g>
<rect x="3847" y="766" width="33" height="217" fill="url(#jet)" stroke="#ccc" stroke-width="1"/>
<rect x="3866" y="1135" width="33" height="146" fill="url(#jet)" stroke="#ccc" stroke-width="1"/>
<rect x="3879" y="1427" width="36" height="156" fill="url(#jet)" stroke="#ccc" stroke-width="1"/>
<g font-size="26" fill="#ffffff">
  <text x="3840" y="750">HCL</text>
  <text x="3898" y="788">18.5</text>
  <text x="3895" y="981">16.5</text>
  <text x="3867" y="1121">DS</text>
  <text x="3915" y="1153">0.86</text>
  <text x="3912" y="1278">0.72</text>
  <text x="3821" y="1412" textLength="152" lengthAdjust="spacingAndGlyphs">Lipid content</text>
  <text x="3932" y="1452">300</text>
  <text x="3928" y="1579">0</text>
</g>

<!-- Yellow banner -->
<path d="M1856,1665 L4000,1665 L4000,1990 L1856,1990 Q1816,1990 1816,1950 L1816,1705 Q1816,1665 1856,1665 Z" fill="#fdd83b"/>
<g font-size="70" font-weight="bold" fill="#0c5f5c" text-anchor="middle">
  <text x="2908" y="1763" textLength="1806" lengthAdjust="spacingAndGlyphs">Using the NIR-HSI technique with machine learning can</text>
  <text x="2908" y="1845" textLength="1786" lengthAdjust="spacingAndGlyphs">serve as a valuable tool for diagnosing and monitoring</text>
  <text x="2907" y="1927" textLength="1518" lengthAdjust="spacingAndGlyphs">diseases related to abnormal lipid metabolism</text>
</g>

<!-- Footer -->
<rect x="0" y="2029" width="4000" height="221" fill="#ffffff"/>
<g transform="translate(102,2137)">
  <path id="ringP" d="M-52,48 A70,70 0 1,1 52,48" fill="none"/>
  <text font-size="19" font-weight="bold" fill="#1aa35a" textLength="300" lengthAdjust="spacingAndGlyphs"><textPath xlink:href="#ringP">TOKYO UNIVERSITY OF SCIENCE</textPath></text>
  <text x="0" y="74" font-size="17" font-weight="bold" fill="#1aa35a" text-anchor="middle">since 1881</text>
  <g stroke="#1aa35a" stroke-width="6" fill="none">
    <ellipse cx="0" cy="0" rx="46" ry="52"/>
    <ellipse cx="0" cy="0" rx="26" ry="52"/>
    <line x1="-44" y1="-18" x2="44" y2="-18"/>
    <line x1="-44" y1="18" x2="44" y2="18"/>
    <line x1="-34" y1="-36" x2="34" y2="-36"/>
    <line x1="-34" y1="36" x2="34" y2="36"/>
  </g>
  <ellipse cx="0" cy="0" rx="16" ry="22" fill="#1aa35a"/>
</g>
<text x="184" y="2160" font-family="'Liberation Sans', 'Noto Sans CJK JP', sans-serif" font-size="105" font-weight="bold" fill="#000000" textLength="517" lengthAdjust="spacingAndGlyphs">東京理科大学</text>
<text x="191" y="2207" font-size="38" fill="#2a1a10" textLength="498" lengthAdjust="spacingAndGlyphs">TOKYO UNIVERSITY OF SCIENCE</text>
<g fill="#1a1a1a" text-anchor="end">
  <text x="3954" y="2095" font-size="42" font-weight="bold" textLength="1883" lengthAdjust="spacingAndGlyphs">Visualization of hydrocarbon chain length and degree of saturation of fatty acids in mouse livers by</text>
  <text x="3954" y="2148" font-size="42" font-weight="bold" textLength="1319" lengthAdjust="spacingAndGlyphs">combining near-infrared hyperspectral imaging and machine learning</text>
  <text x="3954" y="2204" font-size="39" textLength="1408" lengthAdjust="spacingAndGlyphs">Mori <tspan font-style="italic">et al.</tspan> (2023)  |  <tspan font-style="italic">Scientific Reports</tspan>  |  DOI: 10.1038/s41598-023-47565-z</text>
</g>
</svg>
</body></html>
